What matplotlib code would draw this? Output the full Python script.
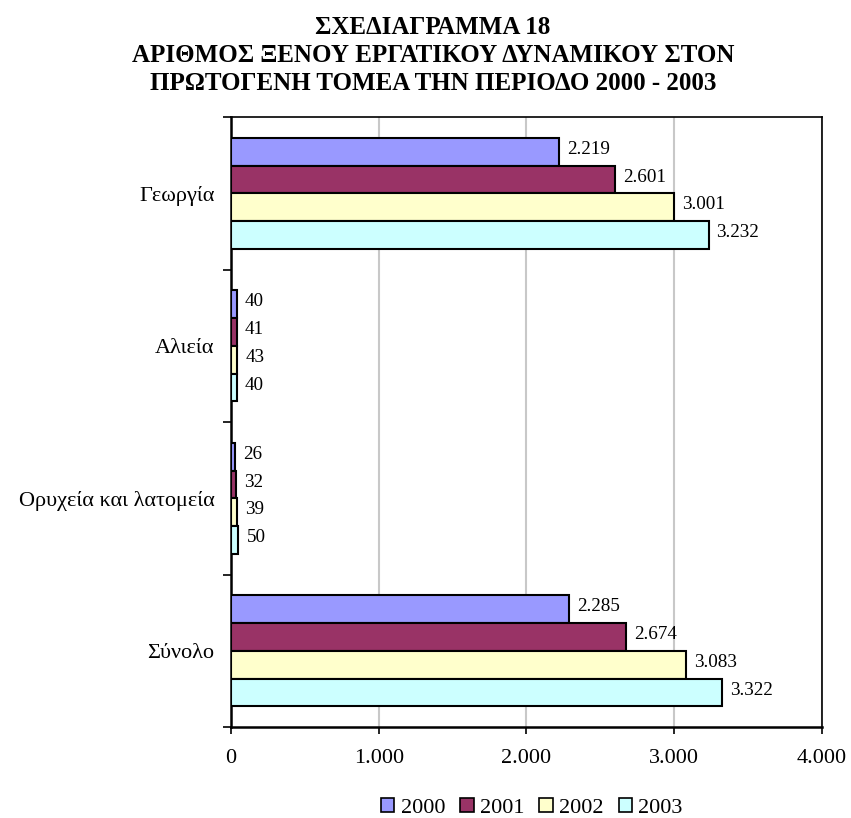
import numpy as np
import matplotlib
matplotlib.use('Agg')
import matplotlib.pyplot as plt
from matplotlib.patches import Patch

plt.rcParams['font.family'] = ['Liberation Serif', 'DejaVu Serif']

categories = ['Γεωργία', 'Αλιεία', 'Ορυχεία και λατομεία', 'Σύνολο']
years = ['2000', '2001', '2002', '2003']
values = {
    '2000': [2219, 40, 26, 2285],
    '2001': [2601, 41, 32, 2674],
    '2002': [3001, 43, 39, 3083],
    '2003': [3232, 40, 50, 3322],
}
colors = ['#9999FF', '#993366', '#FFFFCC', '#CCFFFF']
x_ticks = [0, 1000, 2000, 3000, 4000]
title = 'ΣΧΕΔΙΑΓΡΑΜΜΑ 18\nΑΡΙΘΜΟΣ ΞΕΝΟΥ ΕΡΓΑΤΙΚΟΥ ΔΥΝΑΜΙΚΟΥ ΣΤΟΝ\nΠΡΩΤΟΓΕΝΗ ΤΟΜΕΑ ΤΗΝ ΠΕΡΙΟΔΟ 2000 - 2003'


def fmt(v):
    # greek style thousands separator
    return '{:,}'.format(v).replace(',', '.')


fig = plt.figure(figsize=(8.51, 8.18), dpi=100)
ax = fig.add_axes([0.2714, 0.1112, 0.6945, 0.7457])

y = np.arange(len(categories))
h = 4 / 5.5 / 4
for j, yr in enumerate(years):
    pos = y + (j - 1.5) * h
    bars = ax.barh(pos, values[yr], height=h, color=colors[j],
                   edgecolor='black', linewidth=1.5, zorder=3)
    for b, v in zip(bars, values[yr]):
        ax.annotate(fmt(v), (b.get_width(), b.get_y() + b.get_height() / 2),
                    xytext=(5.8, 1.6), textcoords='offset points',
                    ha='left', va='center', fontsize=13.8)

ax.set_xlim(0, 4000)
ax.set_ylim(len(categories) - 0.5, -0.5)
ax.set_xticks(x_ticks)
ax.set_xticklabels([fmt(t) for t in x_ticks], fontsize=16)
ax.tick_params(axis='x', length=5, width=1.2, pad=10.5)
ax.set_yticks(y)
ax.set_yticklabels(categories, fontsize=16)
ax.tick_params(axis='y', which='major', length=0, pad=12)
ax.set_yticks(np.arange(len(categories) + 1) - 0.5, minor=True)
ax.tick_params(axis='y', which='minor', length=6, width=1.2)
ax.grid(axis='x', color='#C8C8C8', linewidth=1.5, zorder=0)
ax.set_axisbelow(True)
for side in ['left', 'bottom']:
    ax.spines[side].set_linewidth(1.8)
for side in ['top', 'right']:
    ax.spines[side].set_linewidth(1.2)

fig.text(0.509, 0.981, title, ha='center', va='top', fontsize=18,
         fontweight='bold', linespacing=1.30)

handles = [Patch(facecolor=c, edgecolor='black', linewidth=1.2) for c in colors]
fig.legend(handles, years, loc='center', bbox_to_anchor=(0.625, 0.012),
           ncol=4, frameon=False, fontsize=16, handlelength=0.6,
           handleheight=0.55, handletextpad=0.28, columnspacing=0.68)

plt.savefig('out.png', dpi=100)
